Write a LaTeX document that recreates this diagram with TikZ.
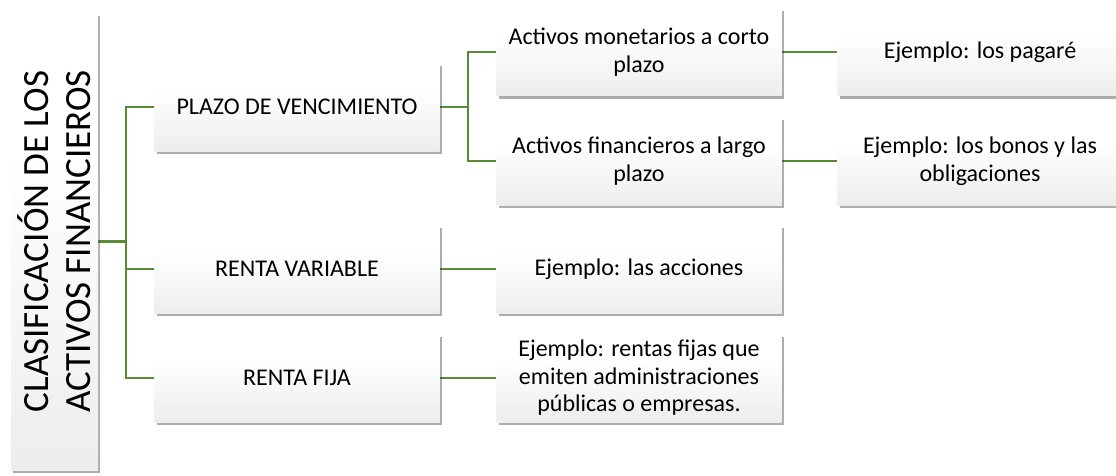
\documentclass[tikz,border=0pt]{standalone}
\usepackage{fontspec}
\setmainfont{Carlito}
\usetikzlibrary{shadows,backgrounds}
\definecolor{linegreen}{RGB}{88,140,52}
\pgfdeclareverticalshading{boxshade}{100bp}{color(0bp)=(black!13); color(30bp)=(black!6); color(60bp)=(white); color(100bp)=(white)}
\tikzset{
  box/.style={shading=boxshade, draw=none, inner sep=0pt, align=center,
    font=\fontsize{24}{27.5}\selectfont,
    drop shadow={shadow xshift=2pt, shadow yshift=-3pt, opacity=0.4, fill=black!80}},
  colbox/.style={box, minimum width=285pt, minimum height=88pt},
  conn/.style={draw=linegreen, line width=2.6pt}
}
\begin{document}
\begin{tikzpicture}[x=1pt,y=1pt]
\clip (0,0) rectangle (1116,-476);
% root
\node[box, minimum width=87pt, minimum height=457pt] (root) at (54.5,-241.5) {};
\node[rotate=90, align=center, inner sep=0pt, font=\fontsize{37}{42}\selectfont] (roottext) at (root.center) {CLASIFICACIÓN DE LOS\\ACTIVOS FINANCIEROS};
% column 1
\node[colbox] (plazo) at (297,-107) {PLAZO DE VENCIMIENTO};
\node[colbox] (rv) at (297,-269) {RENTA VARIABLE};
\node[colbox] (rf) at (297,-378) {RENTA FIJA};
% column 2
\node[colbox] (corto) at (639,-52) {Activos monetarios a corto\\plazo};
\node[colbox] (largo) at (639,-161) {Activos financieros a largo\\plazo};
\node[colbox] (acciones) at (639,-269) {Ejemplo: las acciones};
\node[colbox] (fijas) at (639,-378) {Ejemplo: rentas fijas que\\emiten administraciones\\públicas o empresas.};
% column 3
\node[colbox] (pagare) at (980,-52) {Ejemplo: los pagaré};
\node[colbox] (bonos) at (980,-161) {Ejemplo: los bonos y las\\obligaciones};
% junctions
\coordinate (jA) at (126,-241.5);
\coordinate (jB) at (468,-107);
\begin{scope}[on background layer]
\fill[white] (0,0) rectangle (1116,-476);
\draw[conn] (root.east) -- (jA);
\draw[conn] (plazo.west) -| (jA) |- (rf.west);
\draw[conn] (rv.west) -- (rv.west -| jA);
\draw[conn] (plazo.east) -- (jB);
\draw[conn] (corto.west) -| (jB) |- (largo.west);
\draw[conn] (corto.east) -- (pagare.west);
\draw[conn] (largo.east) -- (bonos.west);
\draw[conn] (rv.east) -- (acciones.west);
\draw[conn] (rf.east) -- (fijas.west);
\end{scope}
\end{tikzpicture}
\end{document}
